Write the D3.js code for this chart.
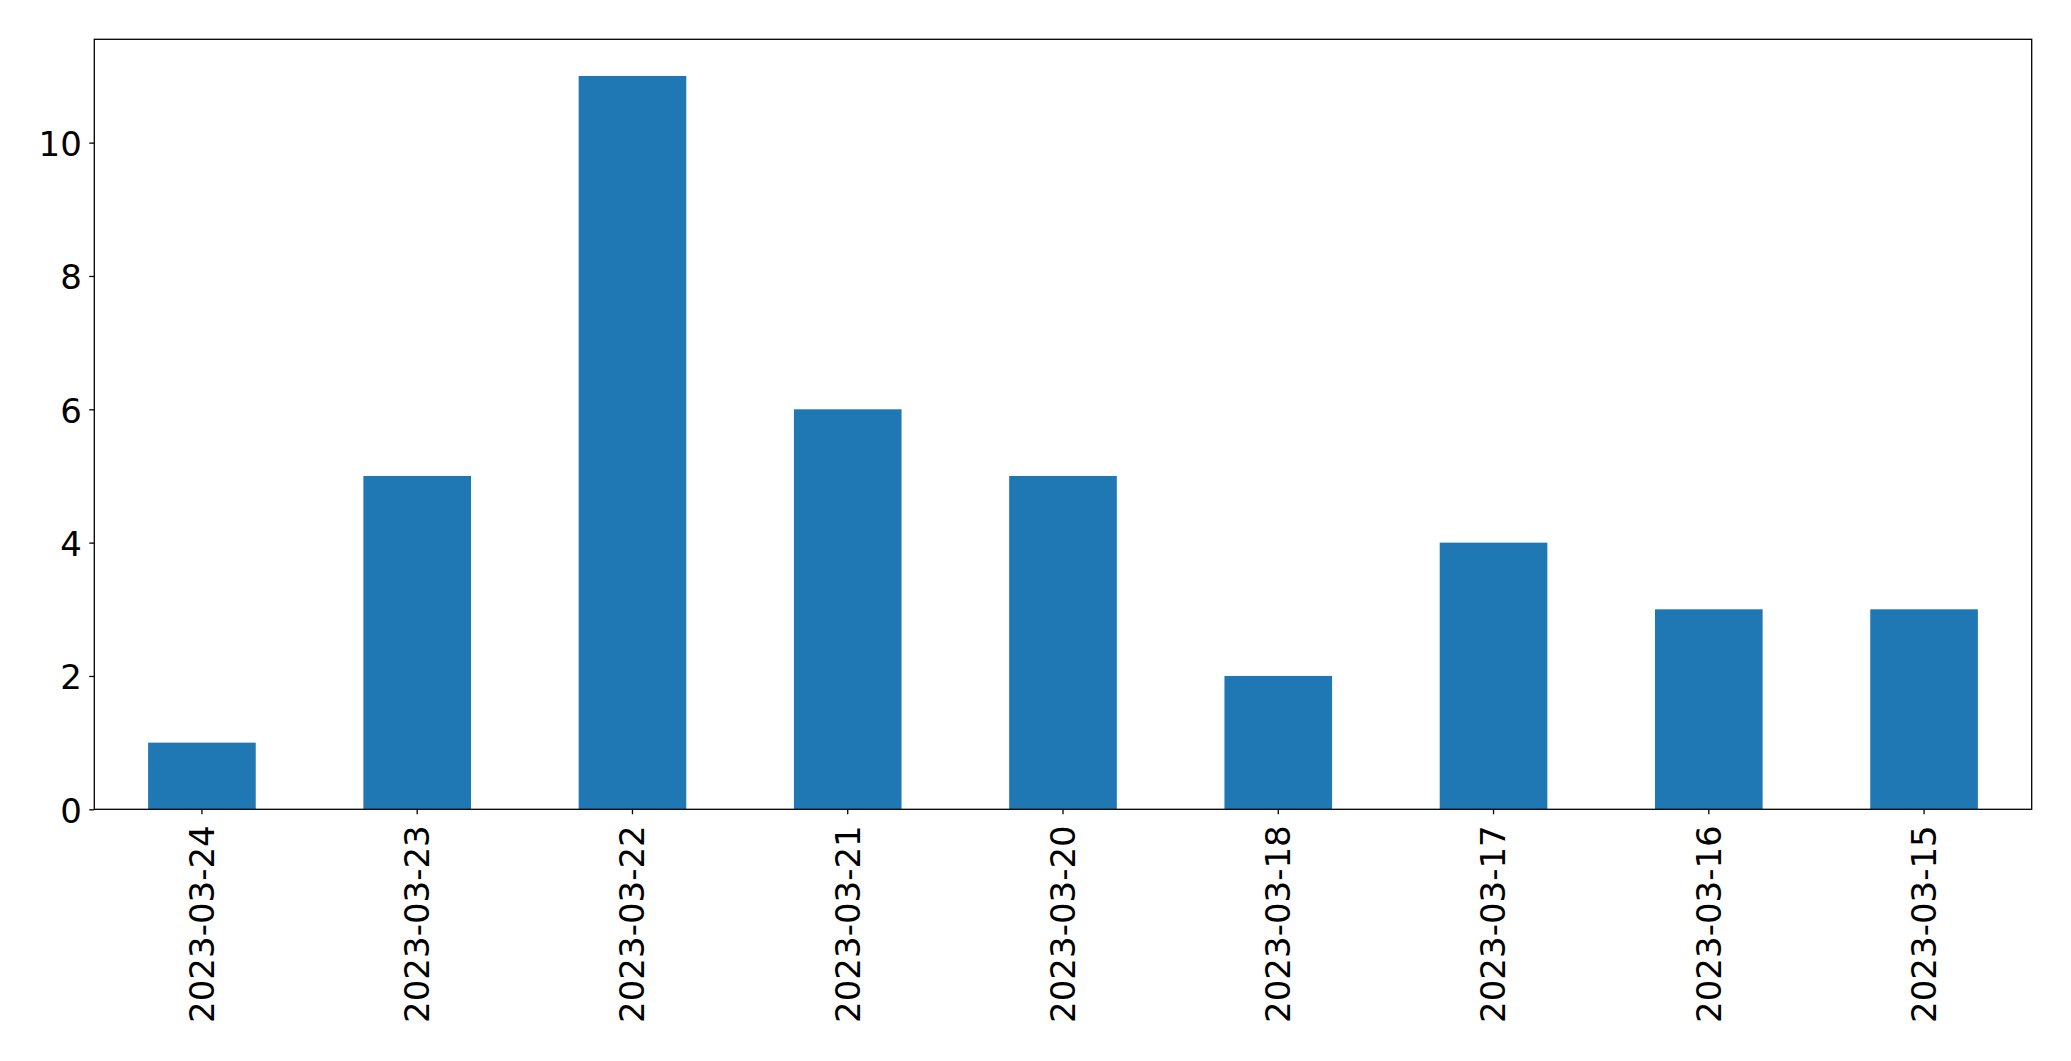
<!DOCTYPE html>
<html>
<head>
<meta charset="utf-8">
<script src="https://cdn.jsdelivr.net/npm/d3@7"></script>
<style>
  html, body { margin: 0; padding: 0; background: #fff; }
  svg { display: block; }
  text { font-family: "DejaVu Sans", sans-serif; fill: #000; }
</style>
</head>
<body>
<script>
const categories = ["2023-03-24","2023-03-23","2023-03-22","2023-03-21","2023-03-20","2023-03-18","2023-03-17","2023-03-16","2023-03-15"];
const values = [1, 5, 11, 6, 5, 2, 4, 3, 3];
const yTicks = [0, 2, 4, 6, 8, 10];

const W = 2071, H = 1061;
const margin = { left: 94.3, right: W - 2031.7, top: 39.3, bottom: H - 809.3 };
const fontSize = 34;

const svg = d3.select("body").append("svg").attr("width", W).attr("height", H);

const x = d3.scaleBand().domain(categories)
  .range([margin.left, W - margin.right]).paddingInner(0.5).paddingOuter(0.25);
const y = d3.scaleLinear().domain([0, 11.55]).range([H - margin.bottom, margin.top]);

// bars
svg.append("g").selectAll("rect").data(categories).join("rect")
  .attr("x", d => x(d))
  .attr("width", x.bandwidth())
  .attr("y", (d, i) => y(values[i]))
  .attr("height", (d, i) => y(0) - y(values[i]))
  .attr("fill", "#1f77b4");

// y axis
const yAxis = svg.append("g").attr("transform", `translate(${margin.left},0)`)
  .call(d3.axisLeft(y).tickValues(yTicks).tickSize(5).tickPadding(7.5).tickFormat(d3.format("d")));
yAxis.select(".domain").remove();
yAxis.selectAll("line").attr("stroke", "#000").attr("stroke-width", 1.3);
yAxis.selectAll("text").attr("font-size", fontSize).attr("font-family", "DejaVu Sans").attr("dy", "0.38em").attr("fill", "#000");

// x axis
const xAxis = svg.append("g").attr("transform", `translate(0,${H - margin.bottom})`)
  .call(d3.axisBottom(x).tickSize(5).tickPadding(0));
xAxis.select(".domain").remove();
xAxis.selectAll("line").attr("stroke", "#000").attr("stroke-width", 1.3);
xAxis.selectAll("text")
  .attr("font-size", fontSize).attr("font-family", "DejaVu Sans").attr("fill", "#000")
  .attr("text-anchor", "end")
  .attr("transform", "translate(0,16) rotate(-90)")
  .attr("x", 0).attr("y", 0).attr("dy", "0.35em");

// frame
svg.append("rect")
  .attr("x", margin.left).attr("y", margin.top)
  .attr("width", W - margin.right - margin.left)
  .attr("height", H - margin.bottom - margin.top)
  .attr("fill", "none").attr("stroke", "#000").attr("stroke-width", 1.3);
</script>
</body>
</html>
